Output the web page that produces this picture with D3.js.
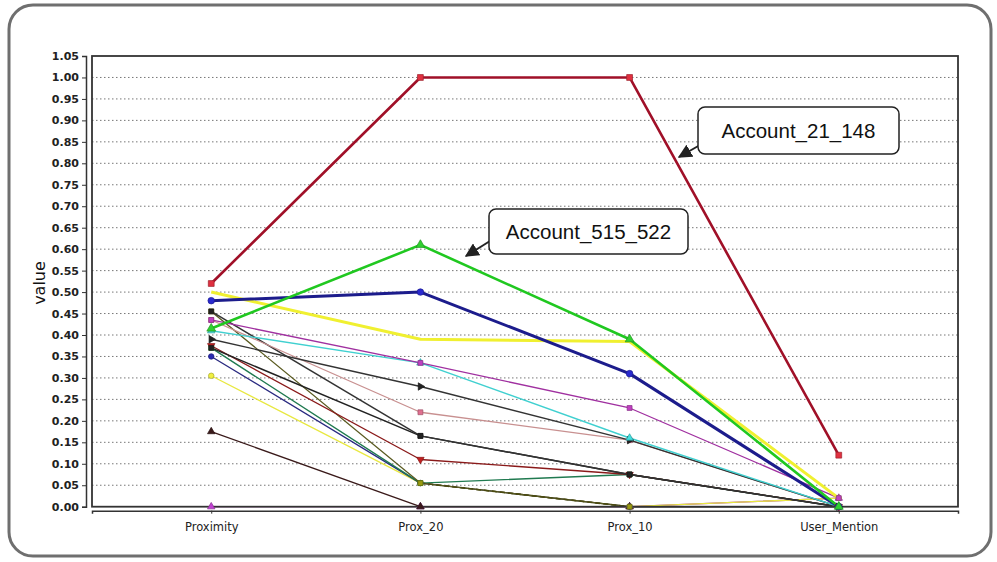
<!DOCTYPE html>
<html><head><meta charset="utf-8">
<script src="https://cdn.jsdelivr.net/npm/d3@7"></script>
<style>body{margin:0;background:#fff}svg{display:block}</style>
</head><body>
<svg id="c" width="997" height="562"></svg>
<script>
const categories = ["Proximity", "Prox_20", "Prox_10", "User_Mention"];
const yTickValues = [0,0.05,0.10,0.15,0.20,0.25,0.30,0.35,0.40,0.45,0.50,0.55,0.60,0.65,0.70,0.75,0.80,0.85,0.90,0.95,1.00,1.05];
const seriesNames = ["s17","s16","s15","s14","s13","s12","s11","s10","s9","s8","s7","s6","s5","s4","s3","Account_515_522","Account_21_148"];
const seriesValues = [
  [0.00, 0.00, 0.00, 0.02],
  [0.175, 0.00, 0.00, 0.00],
  [0.305, 0.055, 0.00, 0.02],
  [0.35, 0.055, 0.00, 0.00],
  [0.37, 0.055, 0.075, 0.00],
  [0.455, 0.055, 0.00, 0.00],
  [0.375, 0.11, 0.075, 0.00],
  [0.37, 0.165, 0.075, 0.00],
  [0.455, 0.165, 0.075, 0.00],
  [0.435, 0.22, 0.155, 0.00],
  [0.39, 0.28, 0.155, 0.00],
  [0.41, 0.335, 0.16, 0.00],
  [0.435, 0.335, 0.23, 0.02],
  [0.50, 0.39, 0.385, 0.02],
  [0.48, 0.50, 0.31, 0.00],
  [0.415, 0.61, 0.39, 0.00],
  [0.52, 1.00, 1.00, 0.12]
];
const labelNames = ["Account_515_522", "Account_21_148"];

// styles (separate from data)
const styles = [
  {c:"#a020b0", w:1.3, m:d3.symbolTriangle, f:"#c040d0", mk:true},
  {c:"#3a1a1a", w:1.3, m:d3.symbolTriangle, f:"#3a1a1a", mk:true},
  {c:"#e8e840", w:1.3, m:d3.symbolCircle, f:"#f0f040", mk:true},
  {c:"#2a2a80", w:1.3, m:d3.symbolCircle, f:"#2a2ab0", mk:true},
  {c:"#207a50", w:1.4, m:d3.symbolSquare, f:"#30c030", mk:true},
  {c:"#5a5a20", w:1.3, m:d3.symbolSquare, f:"#9a9a10", mk:true},
  {c:"#8a1a1a", w:1.3, m:d3.symbolTriangle, f:"#c02020", rot:180, mk:true},
  {c:"#222", w:1.5, m:d3.symbolSquare, f:"#222", mk:true},
  {c:"#333", w:1.5, m:d3.symbolSquare, f:"#222", mk:true},
  {c:"#c89090", w:1.3, m:d3.symbolSquare, f:"#e07090", mk:true},
  {c:"#333", w:1.4, m:d3.symbolTriangle, f:"#222", rot:90, mk:true},
  {c:"#40d0d0", w:1.4, m:d3.symbolTriangle, f:"#40e0e0", mk:true},
  {c:"#a030a0", w:1.3, m:d3.symbolSquare, f:"#c040c0", mk:true},
  {c:"#f0f030", w:3, m:d3.symbolCircle, f:"#f0f040", mk:false},
  {c:"#1c1c8c", w:3, m:d3.symbolCircle, f:"#2a2ad0", mk:true},
  {c:"#20c820", w:2.6, m:d3.symbolTriangle, f:"#30d030", mk:true},
  {c:"#a01028", w:2.6, m:d3.symbolSquare, f:"#e03040", mk:true}
];

const svg = d3.select("#c");
// outer panel
svg.append("rect").attr("x",9).attr("y",5).attr("width",982).attr("height",551)
  .attr("rx",24).attr("fill","#fff").attr("stroke","#6f6f6f").attr("stroke-width",3);

const L = 92, R = 958, T = 56, B = 506.7;
const x = d3.scalePoint().domain(categories).range([L, R]).padding(0.57);
const y = d3.scaleLinear().domain([0, 1.05]).range([B, T]);

// grid
svg.append("g").selectAll("line").data(yTickValues.filter(v => v > 0 && v < 1.04)).join("line")
  .attr("x1", L).attr("x2", R).attr("y1", d => y(d)).attr("y2", d => y(d))
  .attr("stroke", "#777").attr("stroke-width", 1).attr("stroke-dasharray", "1.5,2.5");

// y axis
const yAxis = d3.axisLeft(y).tickValues(yTickValues).tickFormat(d3.format(".2f")).tickSize(4).tickPadding(3);
const gy = svg.append("g").attr("transform", `translate(${L-6},0)`).call(yAxis);
gy.select(".domain").attr("stroke","#333").attr("stroke-width",1.5);
gy.selectAll(".tick line").attr("stroke","#333");
gy.selectAll("text").attr("font-family","DejaVu Sans, Verdana, sans-serif").attr("font-size",11)
  .attr("font-weight","bold").attr("fill","#222");

// x axis
const xAxis = d3.axisBottom(x).tickSize(3).tickPadding(9);
const gx = svg.append("g").attr("transform", `translate(0,${B+4})`).call(xAxis);
gx.select(".domain").attr("stroke","#333").attr("stroke-width",1.5);
gx.selectAll(".tick line").attr("stroke","#333");
gx.selectAll("text").attr("font-family","DejaVu Sans, Verdana, sans-serif").attr("font-size",11.5)
  .attr("fill","#222");

// y title
svg.append("text").attr("transform","translate(45,283) rotate(-90)").attr("text-anchor","middle")
  .attr("font-family","DejaVu Sans, Verdana, sans-serif").attr("font-size",16).attr("fill","#111").text("value");

// lines
const line = d3.line().x((d,i) => x(categories[i])).y(d => y(d));
const g = svg.append("g");
seriesValues.forEach((vals, si) => {
  const s = styles[si];
  g.append("path").attr("d", line(vals)).attr("fill","none").attr("stroke", s.c)
    .attr("stroke-width", s.w).attr("stroke-linejoin","round");
});
// dashed overlay on the olive series' Prox_20 → Prox_10 segment
g.append("path").attr("d", line.defined((d,i) => i === 1 || i === 2)(seriesValues[5]))
  .attr("fill","none").attr("stroke","#4a4a10").attr("stroke-width",1.6).attr("stroke-dasharray","5,3");
line.defined(() => true);

// plot frame (over lines)
svg.append("rect").attr("x",L).attr("y",T).attr("width",R-L).attr("height",B-T)
  .attr("fill","none").attr("stroke","#333").attr("stroke-width",1.8);

const gm = svg.append("g");
seriesValues.forEach((vals, si) => {
  const s = styles[si];
  if (!s.mk) return;
  const sym = d3.symbol().type(s.m).size(s.w > 2 ? 34 : 24);
  gm.selectAll(null).data(vals).join("path")
    .attr("d", sym)
    .attr("transform", (d,i) => `translate(${x(categories[i])},${y(d)}) rotate(${s.rot||0})`)
    .attr("fill", s.f).attr("stroke", d3.color(s.f).darker(1)).attr("stroke-width", 0.7);
});

// annotations
const defs = svg.append("defs");
defs.append("marker").attr("id","ah").attr("viewBox","0 0 10 10").attr("refX",9).attr("refY",5)
  .attr("markerWidth",7).attr("markerHeight",7).attr("orient","auto")
  .append("path").attr("d","M0,0 L10,5 L0,10 z").attr("fill","#222");

const notes = [
  {name: labelNames[0], box:[489,209,199,45], from:[490,241], to:[466,256]},
  {name: labelNames[1], box:[698,107,201,47], from:[700,145], to:[679,157]}
];
notes.forEach(n => {
  svg.append("line").attr("x1",n.from[0]).attr("y1",n.from[1]).attr("x2",n.to[0]).attr("y2",n.to[1])
    .attr("stroke","#222").attr("stroke-width",2).attr("marker-end","url(#ah)");
  svg.append("rect").attr("x",n.box[0]).attr("y",n.box[1]).attr("width",n.box[2]).attr("height",n.box[3])
    .attr("rx",7).attr("fill","#fff").attr("stroke","#222").attr("stroke-width",1.5);
  svg.append("text").attr("x",n.box[0]+n.box[2]/2).attr("y",n.box[1]+n.box[3]/2+7)
    .attr("text-anchor","middle").attr("font-family","Liberation Sans, Arial, sans-serif")
    .attr("font-size",20.5).attr("fill","#111").text(n.name);
});
</script>
</body></html>
